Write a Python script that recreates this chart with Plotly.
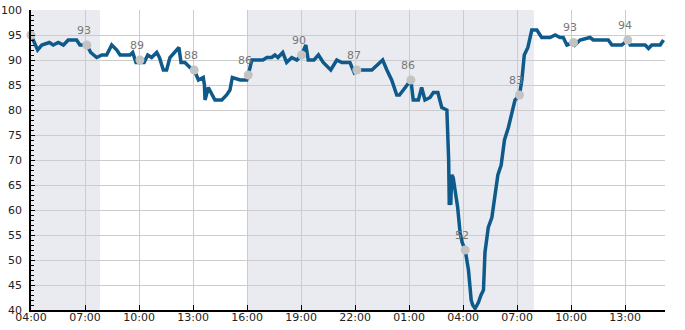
import plotly.graph_objects as go
from datetime import datetime, timedelta

# SpO2-like series (times HH:MM, crossing midnight once)
times = ["04:00","04:22","04:36","05:01","05:14","05:31","05:48","06:04","06:32","06:43",
         "07:06","07:19","07:39","07:56","08:12","08:29","08:46","08:57","09:30","09:39",
         "09:50","10:17","10:29","10:42","10:59","11:08","11:21","11:32","11:43","12:00",
         "12:13","12:20","12:33","12:50","13:04","13:18","13:34","13:38","13:40","13:51",
         "14:00","14:13","14:36","14:52","15:03","15:11","15:37","15:59","16:04","16:16",
         "16:53","17:06","17:22","17:33","17:43","17:59","18:12","18:29","18:46","19:02",
         "19:16","19:24","19:43","19:58","20:14","20:39","20:59","21:16","21:30","21:43",
         "21:57","22:06","22:56","23:12","23:32","23:46","00:02","00:19","00:28","00:41",
         "00:52","01:06","01:14","01:31","01:42","01:53","02:10","02:21","02:36","02:49",
         "03:06","03:12","03:14","03:17","03:19","03:22","03:27","03:42","03:50","03:57",
         "04:07","04:18","04:27","04:32","04:40","04:51","05:00","05:08","05:13","05:24",
         "05:36","05:47","05:56","06:07","06:18","06:31","06:42","06:53","07:08","07:16",
         "07:24","07:36","07:49","08:06","08:22","08:50","09:07","09:23","09:34","09:46",
         "10:08","10:13","10:30","11:03","11:14","12:04","12:16","12:49","13:09","13:17",
         "14:07","14:18","14:29","14:57","15:08"]
values = [95,92,93,93.5,93,93.5,93,94,94,93,
          93,91.5,90.5,91,91,93,92,91,91,91.5,
          89.5,89.5,91,90.5,91.5,90.5,88,88,90.5,91.5,
          92.5,89.5,89.5,88.5,88,86,86.5,85,82,84.5,
          83.5,82,82,83,84,86.5,86,86,87,90,
          90,90.5,90.5,91,90.5,91.5,89.5,90.5,90,91,
          93,90,90,91,89.5,88,90,89.5,89.5,89.5,
          87.5,88,88,89,90,88,86,83,83,84,
          85,86,82,82,84.5,82,82.5,83.5,83.5,80.5,
          80,70,61,63,61,67,66.5,60.5,55.5,53.5,
          52,48,42,41,40.3,41.5,43,44,51.5,56.5,
          58.5,63.5,67,69,74,76.5,79,82,83,86,
          91,92.5,96,96,94.5,94.5,95,94.5,94.5,93,
          93.5,93,94,94.5,94,94,93,93,94,93,
          93,92.3,93,93,94]

# Periodic annotated points
mark_times = ["04:00","07:06","10:03","13:04","16:04","19:02","22:06","01:06","04:07","07:08","10:08","13:09"]
mark_values = [95,93,90,88,87,91,88,86,52,83,93.5,94]
mark_labels = ["","93","89","88","86","90","87","86","52","83","93","94"]

# Shaded (night) periods
shade_periods = [("04:00", "07:50"), ("16:00", "07:56")]

BASE = datetime(2024, 3, 10)

def to_dt(seq):
    out, day, prev = [], 0, None
    for s in seq:
        h, m = map(int, s.split(":"))
        mins = h * 60 + m
        if prev is not None and mins < prev:
            day += 1
        prev = mins
        out.append(BASE + timedelta(days=day, minutes=mins))
    return out

x = to_dt(times)
mx = to_dt(mark_times)

x_start = BASE + timedelta(hours=4)
x_end = BASE + timedelta(days=1, hours=15, minutes=13)

fig = go.Figure()
fig.add_trace(go.Scatter(x=x, y=values, mode="lines",
                         line=dict(color="#0d5a8b", width=3.5),
                         hoverinfo="skip", showlegend=False))
fig.add_trace(go.Scatter(x=mx, y=mark_values, mode="markers",
                         marker=dict(color="#c3c3c3", size=9),
                         showlegend=False, cliponaxis=False))

for xi, yi, lab in zip(mx, mark_values, mark_labels):
    if lab:
        fig.add_annotation(x=xi, y=yi, text=lab, showarrow=False,
                           xanchor="center", yanchor="middle",
                           xshift=-3, yshift=15,
                           font=dict(family="DejaVu Sans", size=11, color="#777777"))

# shading periods
sp = to_dt([t for p in shade_periods for t in p])
for i in range(0, len(sp), 2):
    fig.add_shape(type="rect", xref="x", yref="paper", x0=sp[i], x1=sp[i + 1],
                  y0=0, y1=1, fillcolor="#eaebf1", line=dict(width=0), layer="below")

fig.update_layout(
    width=685, height=330,
    margin=dict(l=31, r=20, t=10, b=20),
    paper_bgcolor="white", plot_bgcolor="white",
    font=dict(family="DejaVu Sans", size=11, color="#222222"),
    showlegend=False,
)
fig.update_xaxes(range=[x_start, x_end], type="date", automargin=False,
                 tick0=x_start, dtick=3 * 3600 * 1000, tickformat="%H:%M",
                 showgrid=True, gridcolor="#cccccc", gridwidth=1,
                 showline=True, linecolor="black", linewidth=1.5,
                 ticks="inside", ticklen=5, tickcolor="black",
                 ticklabelstandoff=-4,
                 zeroline=False)
fig.update_yaxes(range=[40, 100], dtick=5, tick0=40, automargin=False,
                 showgrid=True, gridcolor="#cccccc", gridwidth=1,
                 showline=True, linecolor="black", linewidth=1.5,
                 ticks="inside", ticklen=4, tickcolor="black",
                 ticklabelstandoff=5,
                 minor=dict(dtick=1, ticks="inside", ticklen=3, tickcolor="black", showgrid=False),
                 zeroline=False)

fig.write_html("out.html")
